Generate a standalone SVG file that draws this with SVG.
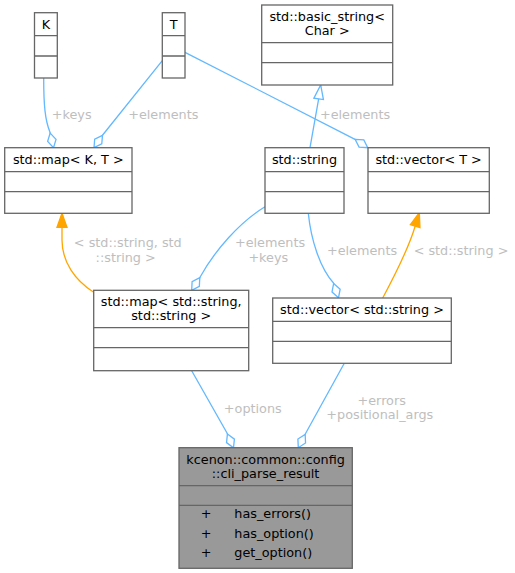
<svg xmlns="http://www.w3.org/2000/svg" width="515" height="573" viewBox="0 0 515 573">
<style>
text{font-family:"DejaVu Sans","Liberation Sans",sans-serif;font-size:12.8px;fill:#000}
.n{text-anchor:middle}
.lbl{fill:#bebebe;text-anchor:middle}
.box{fill:#fff;stroke:#666;stroke-width:1.3}
.main{fill:#999;stroke:#666;stroke-width:1.3}
.div{stroke:#666;stroke-width:1.3;fill:none}
.e{fill:none;stroke:#63b8ff;stroke-width:1.3}
.o{fill:none;stroke:#ffa500;stroke-width:1.3}
</style>
<defs>
<marker id="dia" markerUnits="userSpaceOnUse" markerWidth="18" markerHeight="12" viewBox="-1 -6 17 12" refX="15" refY="0" orient="auto">
<path d="M0,0 L7.5,-4.3 L15,0 L7.5,4.3 Z" fill="#fff" stroke="#63b8ff" stroke-width="1.3"/>
</marker>
<marker id="inh" markerUnits="userSpaceOnUse" markerWidth="17" markerHeight="13" viewBox="-1 -6.5 16 13" refX="14" refY="0" orient="auto">
<path d="M0,-4.8 L14,0 L0,4.8 Z" fill="#fff" stroke="#63b8ff" stroke-width="1.3"/>
</marker>
<marker id="tpl" markerUnits="userSpaceOnUse" markerWidth="17" markerHeight="13" viewBox="-1 -6.5 16 13" refX="14" refY="0" orient="auto">
<path d="M0,-5 L14,0 L0,5 Z" fill="#ffa500" stroke="#ffa500" stroke-width="1.3"/>
</marker>
</defs>

<g id="connectors">
<path class="e" d="M43.7,78 C43.7,105 45,120 50,132.3 L53.5,147.7" marker-end="url(#dia)"/>
<path class="e" d="M162.3,60.7 L102.7,135 L94,147.7" marker-end="url(#dia)"/>
<path class="e" d="M185,52.3 L355,139.3 L367.7,147.7" marker-end="url(#dia)"/>
<path class="e" d="M310,147.7 L318.7,98.7 L320.7,85" marker-end="url(#inh)"/>
<path class="e" d="M265,206.7 C240,222 215,250 200,277.3 L191.7,290.3" marker-end="url(#dia)"/>
<path class="e" d="M308.3,213.3 C311,240 320,268 333.5,283 L338.5,297.7" marker-end="url(#dia)"/>
<path class="o" d="M382.7,298 C395,275 408,250 415,226.7 L419.3,212.7" marker-end="url(#tpl)"/>
<path class="o" d="M93.7,292.3 C75,280 62,262 62,240 L62,226.7 L62,213.3" marker-end="url(#tpl)"/>
<path class="e" d="M191.7,370.7 L227,433 L233.5,447.7" marker-end="url(#dia)"/>
<path class="e" d="M344.3,363.3 L305.7,433.3 L298.3,447.7" marker-end="url(#dia)"/>
<text class="lbl" x="71.7" y="119.3">+keys</text>
<text class="lbl" x="163.3" y="119.3">+elements</text>
<text class="lbl" x="355" y="119.3">+elements</text>
<text class="lbl" x="127.8" y="247.3">&lt; std::string, std</text>
<text class="lbl" x="125.7" y="261.7">::string &gt;</text>
<text class="lbl" x="270" y="247.3">+elements</text>
<text class="lbl" x="268.3" y="261.7">+keys</text>
<text class="lbl" x="362" y="255">+elements</text>
<text class="lbl" x="461" y="255">&lt; std::string &gt;</text>
<text class="lbl" x="252.8" y="412.7">+options</text>
<text class="lbl" x="381.7" y="405">+errors</text>
<text class="lbl" x="379.8" y="419.3">+positional_args</text>
</g>

<g id="node-K">
<rect class="box" x="34.5" y="12.7" width="22.8" height="65.3"/>
<path class="div" d="M34.5,35.7 H57.3 M34.5,56 H57.3"/>
<text class="n" x="46" y="29">K</text>
</g>
<g id="node-T">
<rect class="box" x="162.3" y="12.7" width="22.7" height="65.3"/>
<path class="div" d="M162.3,35.7 H185 M162.3,56 H185"/>
<text class="n" x="173.7" y="29">T</text>
</g>
<g id="node-map-KT">
<rect class="box" x="4.7" y="147.7" width="127.3" height="65.6"/>
<path class="div" d="M4.7,171.7 H132 M4.7,191.7 H132"/>
<text class="n" x="68.3" y="164">std::map&lt; K, T &gt;</text>
</g>
<g id="node-basic-string">
<rect class="box" x="261.7" y="5" width="131" height="80"/>
<path class="div" d="M261.7,42.7 H392.7 M261.7,62.7 H392.7"/>
<text class="n" x="327.2" y="21">std::basic_string&lt;</text>
<text class="n" x="327.2" y="35.4">Char &gt;</text>
</g>
<g id="node-string">
<rect class="box" x="265" y="147.7" width="79" height="65.6"/>
<path class="div" d="M265,171.7 H344 M265,191.7 H344"/>
<text class="n" x="304.5" y="164">std::string</text>
</g>
<g id="node-vector-T">
<rect class="box" x="368" y="147.7" width="121.3" height="65.6"/>
<path class="div" d="M368,171.7 H489.3 M368,191.7 H489.3"/>
<text class="n" x="428.6" y="164">std::vector&lt; T &gt;</text>
</g>
<g id="node-map-ss">
<rect class="box" x="93.7" y="290.3" width="155" height="80.4"/>
<path class="div" d="M93.7,327.7 H248.7 M93.7,347.7 H248.7"/>
<text class="n" x="171.2" y="306">std::map&lt; std::string,</text>
<text class="n" x="171.2" y="320.3">std::string &gt;</text>
</g>
<g id="node-vector-s">
<rect class="box" x="272.7" y="298" width="178.6" height="65.3"/>
<path class="div" d="M272.7,321.3 H451.3 M272.7,341.3 H451.3"/>
<text class="n" x="362" y="314">std::vector&lt; std::string &gt;</text>
</g>
<g id="node-cli-parse-result">
<rect class="main" x="179" y="447.7" width="173.3" height="120.6"/>
<path class="div" d="M179,485.7 H352.3 M179,505.3 H352.3"/>
<text class="n" x="265.6" y="464">kcenon::common::config</text>
<text class="n" x="265.6" y="478.3">::cli_parse_result</text>
<text class="n" x="206" y="518.3">+</text>
<text x="234.3" y="518.3">has_errors()</text>
<text class="n" x="206" y="537.7">+</text>
<text x="234.3" y="537.7">has_option()</text>
<text class="n" x="206" y="557.3">+</text>
<text x="234.3" y="557.3">get_option()</text>
</g>
</svg>
